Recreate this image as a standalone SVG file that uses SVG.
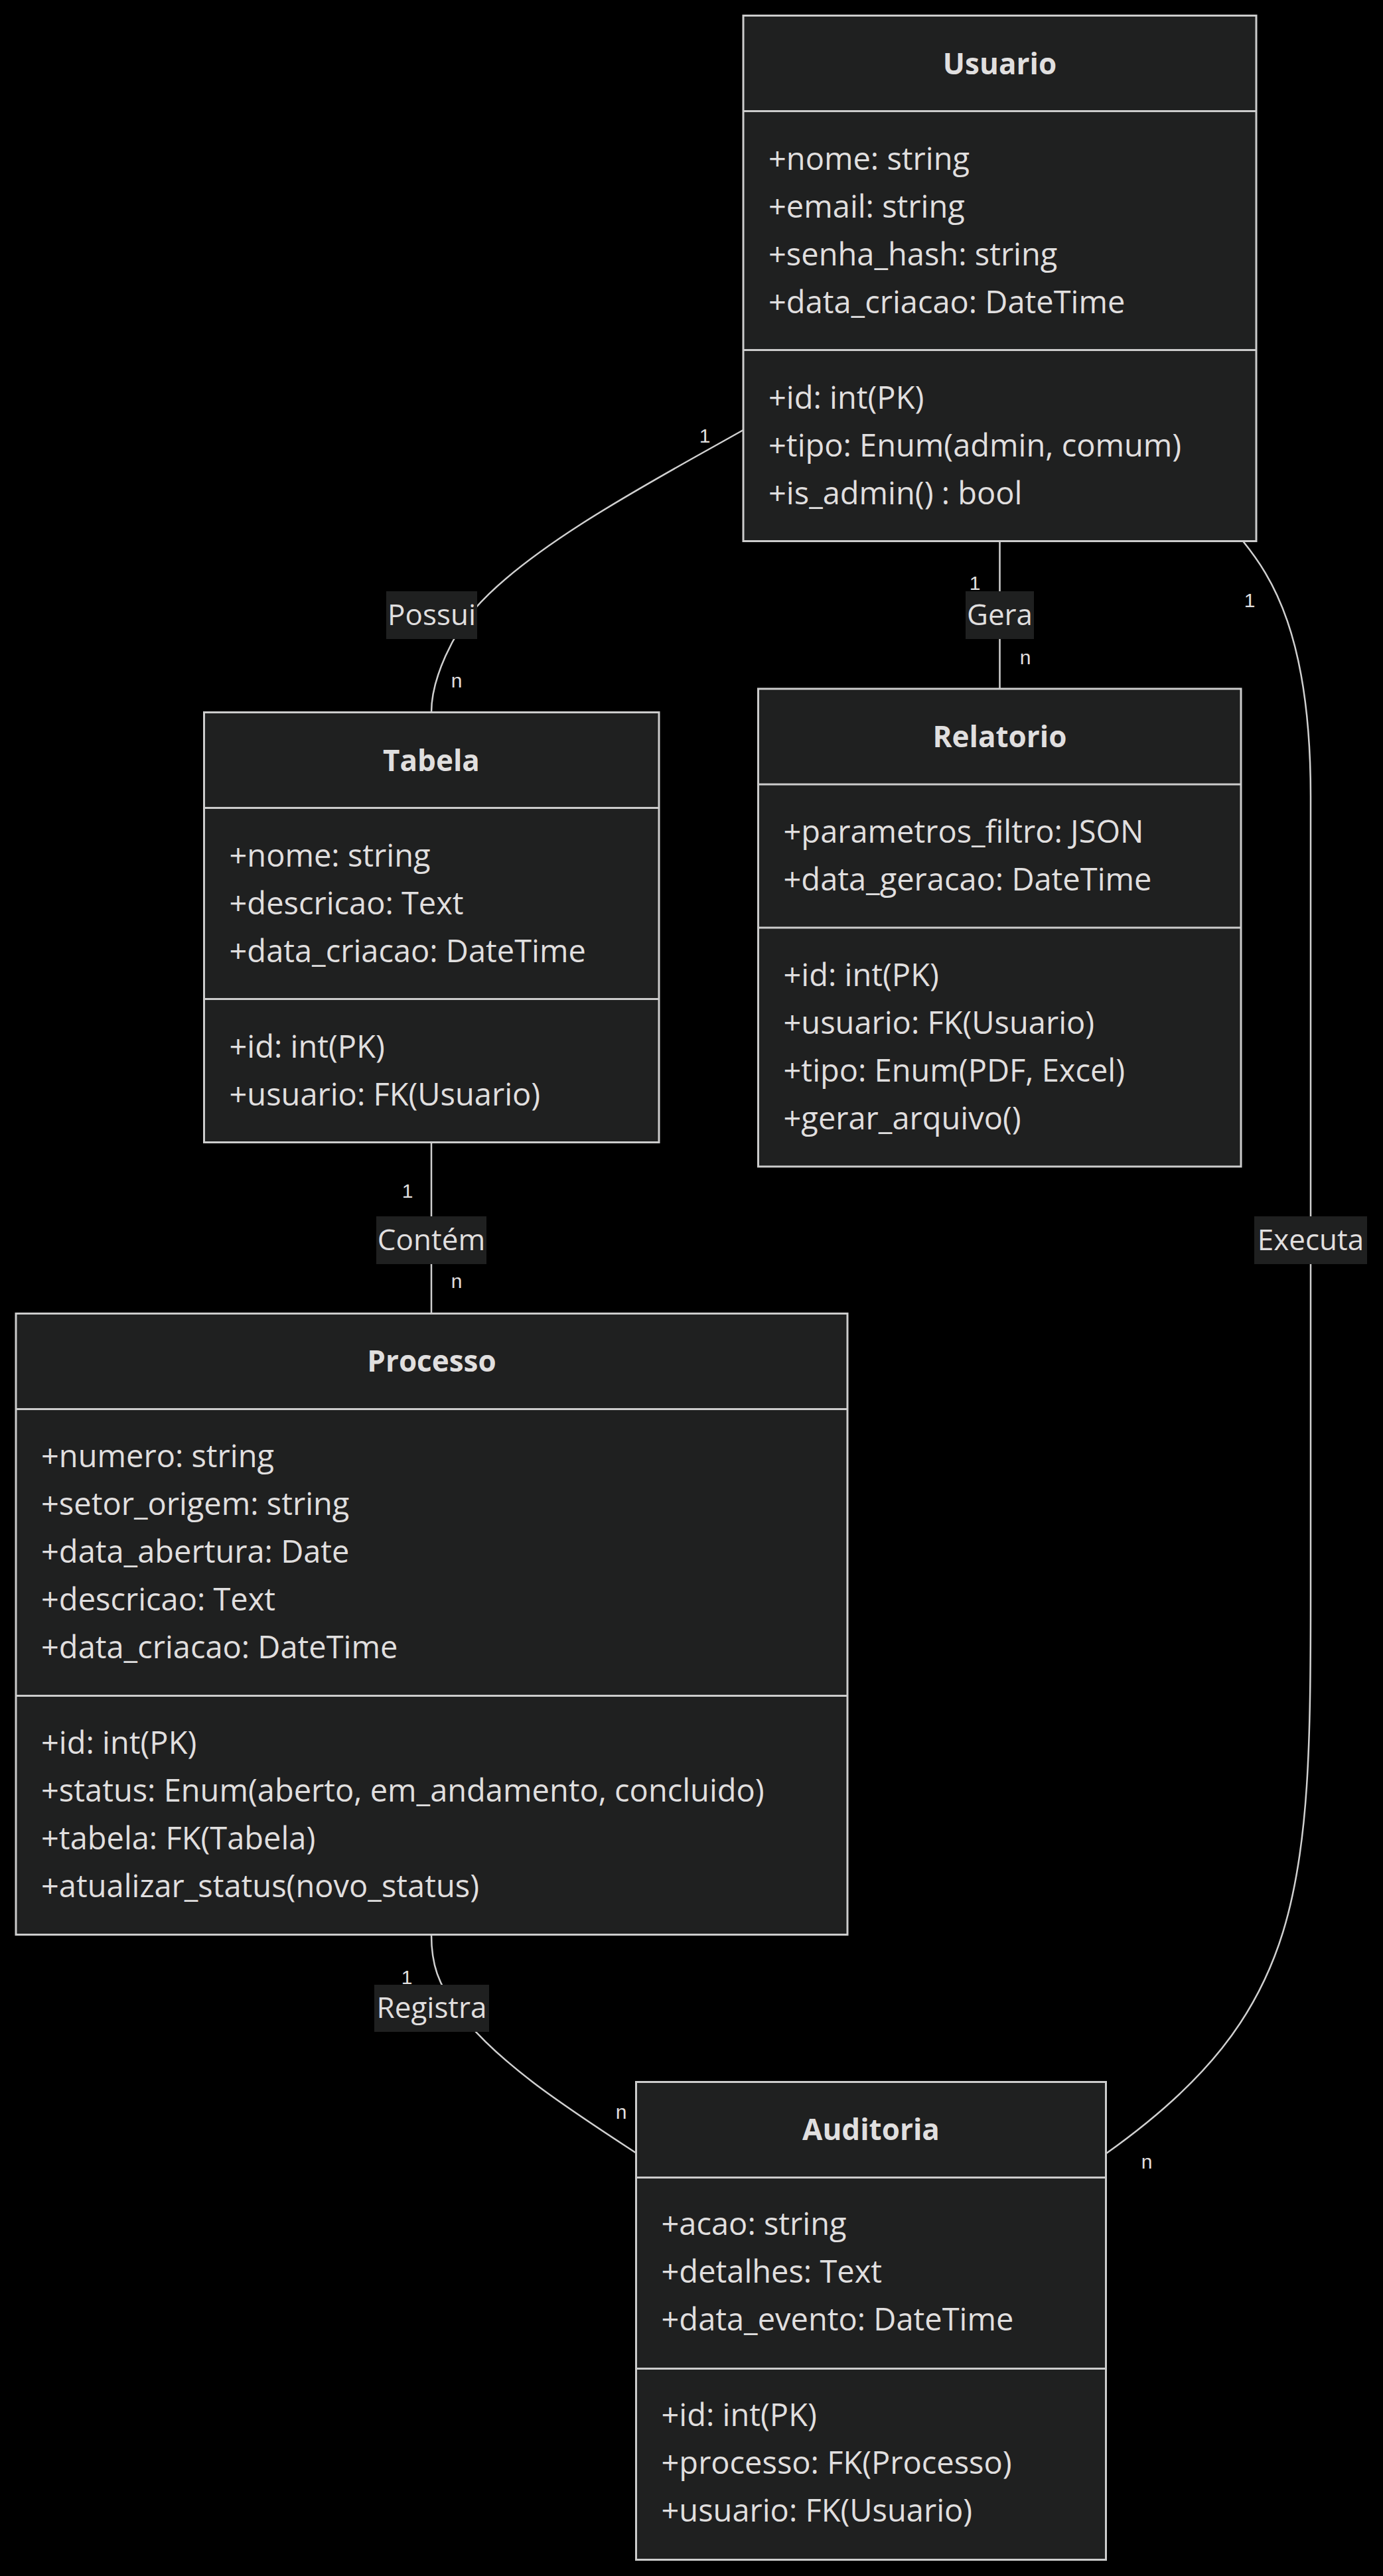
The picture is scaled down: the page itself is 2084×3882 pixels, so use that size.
<svg xmlns="http://www.w3.org/2000/svg" width="2084" height="3882" viewBox="0 0 2084 3882">
  <style>
    .box { fill: #1f2020; stroke: #cccccc; stroke-width: 3; }
    .sep { stroke: #cccccc; stroke-width: 3; }
    .t { font-family: "Open Sans", "Noto Sans", sans-serif; font-size: 47px; fill: #e0dfdf; font-variant-ligatures: none; }
    .title { font-weight: bold; font-size: 44px; text-anchor: middle; }
    .edge { fill: none; stroke: #d0d0d0; stroke-width: 2.5; }
    .lbg { fill: #1f2020; }
    .lbl { text-anchor: middle; font-size: 44px; }
    .card { font-family: "Liberation Sans", Arial, sans-serif; font-size: 30px; fill: #e0dfdf; text-anchor: middle; }
  </style>
  <rect width="2084" height="3882" fill="#000000"/>

  <!-- relationships -->
  <g id="connectors">
    <!-- Usuario 1 - n Tabela : Possui -->
    <path class="edge" d="M1120,648 C1000,716 800,820 715,918 C685,953 650,1020 650,1073.5"/>
    <!-- Usuario 1 - n Relatorio : Gera -->
    <path class="edge" d="M1506.5,815.5 L1506.5,1038"/>
    <!-- Tabela 1 - n Processo : Contém -->
    <path class="edge" d="M650,1721.5 L650,1979.5"/>
    <!-- Processo 1 - n Auditoria : Registra -->
    <path class="edge" d="M650,2915.5 C650,2960 660,2990 690,3030 C750,3110 860,3180 958.5,3244.5"/>
    <!-- Usuario 1 - n Auditoria : Executa -->
    <path class="edge" d="M1873,815.5 C1915,868 1975,955 1975,1200 L1975,2400 C1975,2850 1966.5,3032.5 1666.5,3245.5"/>

    <!-- edge labels -->
    <rect class="lbg" x="582" y="891" width="137" height="72"/>
    <text class="t lbl" x="650.5" y="942">Possui</text>
    <rect class="lbg" x="1455" y="891" width="103" height="72"/>
    <text class="t lbl" x="1506.5" y="942">Gera</text>
    <rect class="lbg" x="567" y="1833" width="166" height="72"/>
    <text class="t lbl" x="650" y="1884">Contém</text>
    <rect class="lbg" x="1890" y="1833" width="170" height="72"/>
    <text class="t lbl" x="1975" y="1884">Executa</text>
    <rect class="lbg" x="564" y="2991" width="173" height="71"/>
    <text class="t lbl" x="650.5" y="3041">Registra</text>

    <!-- multiplicities -->
    <text class="card" x="1062" y="667">1</text>
    <text class="card" x="688" y="1036">n</text>
    <text class="card" x="1469" y="889">1</text>
    <text class="card" x="1545" y="1001">n</text>
    <text class="card" x="1883" y="915">1</text>
    <text class="card" x="1728" y="3268">n</text>
    <text class="card" x="614" y="1805">1</text>
    <text class="card" x="688" y="1941">n</text>
    <text class="card" x="613" y="2990">1</text>
    <text class="card" x="936" y="3193">n</text>
  </g>

  <!-- Usuario -->
  <g id="Usuario">
    <rect class="box" x="1120" y="23.5" width="773" height="792"/>
    <line class="sep" x1="1120" y1="167.5" x2="1893" y2="167.5"/>
    <line class="sep" x1="1120" y1="527.5" x2="1893" y2="527.5"/>
    <text class="t title" x="1506.5" y="112">Usuario</text>
    <text class="t" x="1158" y="256">+nome: string</text>
    <text class="t" x="1158" y="328">+email: string</text>
    <text class="t" x="1158" y="400">+senha_hash: string</text>
    <text class="t" x="1158" y="472">+data_criacao: DateTime</text>
    <text class="t" x="1158" y="616">+id: int(PK)</text>
    <text class="t" x="1158" y="688">+tipo: Enum(admin, comum)</text>
    <text class="t" x="1158" y="760">+is_admin() : bool</text>
  </g>

  <!-- Tabela -->
  <g id="Tabela">
    <rect class="box" x="307.5" y="1073.5" width="685.5" height="648"/>
    <line class="sep" x1="307.5" y1="1217.5" x2="993" y2="1217.5"/>
    <line class="sep" x1="307.5" y1="1505.5" x2="993" y2="1505.5"/>
    <text class="t title" x="650" y="1162">Tabela</text>
    <text class="t" x="345.5" y="1306">+nome: string</text>
    <text class="t" x="345.5" y="1378">+descricao: Text</text>
    <text class="t" x="345.5" y="1450">+data_criacao: DateTime</text>
    <text class="t" x="345.5" y="1594">+id: int(PK)</text>
    <text class="t" x="345.5" y="1666">+usuario: FK(Usuario)</text>
  </g>

  <!-- Relatorio -->
  <g id="Relatorio">
    <rect class="box" x="1142.5" y="1038" width="727.5" height="720"/>
    <line class="sep" x1="1142.5" y1="1182" x2="1870" y2="1182"/>
    <line class="sep" x1="1142.5" y1="1398" x2="1870" y2="1398"/>
    <text class="t title" x="1506.5" y="1126">Relatorio</text>
    <text class="t" x="1180.5" y="1270">+parametros_filtro: JSON</text>
    <text class="t" x="1180.5" y="1342">+data_geracao: DateTime</text>
    <text class="t" x="1180.5" y="1486">+id: int(PK)</text>
    <text class="t" x="1180.5" y="1558">+usuario: FK(Usuario)</text>
    <text class="t" x="1180.5" y="1630">+tipo: Enum(PDF, Excel)</text>
    <text class="t" x="1180.5" y="1702">+gerar_arquivo()</text>
  </g>

  <!-- Processo -->
  <g id="Processo">
    <rect class="box" x="24" y="1979.5" width="1253" height="936"/>
    <line class="sep" x1="24" y1="2123.5" x2="1277" y2="2123.5"/>
    <line class="sep" x1="24" y1="2555.5" x2="1277" y2="2555.5"/>
    <text class="t title" x="650.5" y="2067">Processo</text>
    <text class="t" x="62" y="2211">+numero: string</text>
    <text class="t" x="62" y="2283">+setor_origem: string</text>
    <text class="t" x="62" y="2355">+data_abertura: Date</text>
    <text class="t" x="62" y="2427">+descricao: Text</text>
    <text class="t" x="62" y="2499">+data_criacao: DateTime</text>
    <text class="t" x="62" y="2643">+id: int(PK)</text>
    <text class="t" x="62" y="2715">+status: Enum(aberto, em_andamento, concluido)</text>
    <text class="t" x="62" y="2787">+tabela: FK(Tabela)</text>
    <text class="t" x="62" y="2859">+atualizar_status(novo_status)</text>
  </g>

  <!-- Auditoria -->
  <g id="Auditoria">
    <rect class="box" x="958.5" y="3137.5" width="708" height="720"/>
    <line class="sep" x1="958.5" y1="3281.5" x2="1666.5" y2="3281.5"/>
    <line class="sep" x1="958.5" y1="3569.5" x2="1666.5" y2="3569.5"/>
    <text class="t title" x="1312.5" y="3225">Auditoria</text>
    <text class="t" x="996.5" y="3368">+acao: string</text>
    <text class="t" x="996.5" y="3440">+detalhes: Text</text>
    <text class="t" x="996.5" y="3512">+data_evento: DateTime</text>
    <text class="t" x="996.5" y="3656">+id: int(PK)</text>
    <text class="t" x="996.5" y="3728">+processo: FK(Processo)</text>
    <text class="t" x="996.5" y="3800">+usuario: FK(Usuario)</text>
  </g>
</svg>
